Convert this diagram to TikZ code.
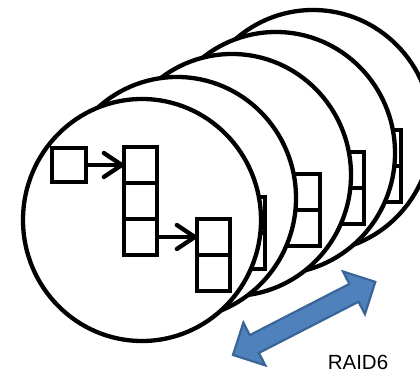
\documentclass[tikz,border=0pt]{standalone}
\usepackage{fontspec}
\setmainfont{Liberation Sans}
\usepackage{tikz}
\usetikzlibrary{arrows.meta, positioning}
\definecolor{rdInk}{HTML}{000000}
\definecolor{rdBlue}{HTML}{4F81BD}
\definecolor{rdEdge}{HTML}{3A6597}
\tikzset{
  disk/.style={draw=rdInk, line width=4.3pt},
  blk/.style={draw=rdInk, line width=4.3pt, minimum width=33pt, minimum height=36pt,
    inner sep=0pt, outer sep=0pt},
  ptr/.style={blk, minimum width=34pt, minimum height=34pt},
  link/.style={rdInk, line width=4.3pt, -{Straight Barb[length=18pt, width=24pt, round]}},
  band/.style={fill=rdBlue, draw=rdEdge, line width=2.2pt, line join=miter},
  tag/.style={font=\fontsize{20.5}{24}\selectfont, text=rdInk, inner sep=0pt}
}

\begin{document}
\begin{tikzpicture}[x=1pt, y=1pt]
  \useasboundingbox (0,0) rectangle (420,374);
  \clip (0,0) rectangle (420,374);
  % stack of disks, drawn back to front
  \foreach \i/\dx/\dy in {5/171/89, 4/134/67, 3/90/45, 2/35/22, 1/0/0} {
    \begin{scope}[shift={(\dx,\dy)}]
      \fill[white] (142,154) ellipse[x radius=119, y radius=121];
      \begin{scope}
        \clip (142,154) ellipse[x radius=119, y radius=121];
        \node[blk] (mid\i-1) at (140.5,209) {};
        \node[blk, below=0pt of mid\i-1] (mid\i-2) {};
        \node[blk, below=0pt of mid\i-2] (mid\i-3) {};
        \node[ptr, left=38pt of mid\i-1] (root\i) {};
        \node[blk, right=40pt of mid\i-3] (leaf\i-1) {};
        \node[blk, below=0pt of leaf\i-1] (leaf\i-2) {};
        \draw[link] (root\i) -- (mid\i-1);
        \draw[link] (mid\i-3) -- (leaf\i-1);
      \end{scope}
      \draw[disk] (142,154) ellipse[x radius=119, y radius=121];
    \end{scope}
  }

  \begin{scope}[shift={(233,19)}, rotate=27.2]
    \draw[band] (0,0) -- (24,24) -- (24,10) -- (136,10) -- (136,24) -- (160,0)
      -- (136,-24) -- (136,-10) -- (24,-10) -- (24,-24) -- cycle;
  \end{scope}
  \node[tag, anchor=base] (raid) at (358,4) {RAID6};
\end{tikzpicture}
\end{document}
